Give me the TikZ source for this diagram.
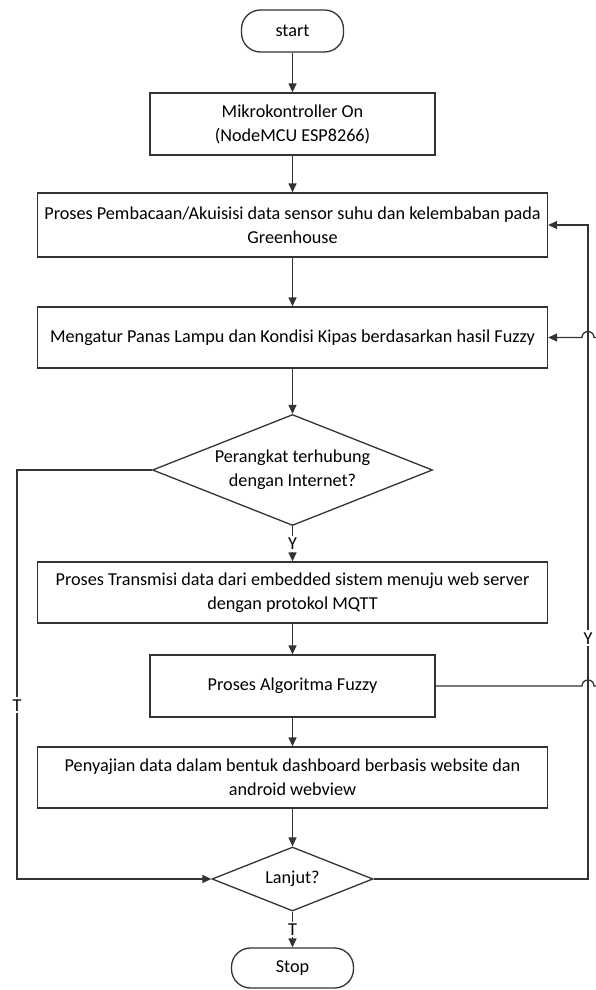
\documentclass[tikz,border=0pt]{standalone}
\usepackage{fontspec}
\setmainfont{Carlito}
\usetikzlibrary{arrows.meta,shapes.geometric}
\begin{document}
\begin{tikzpicture}[x=1pt,y=-1pt,
  every node/.style={font=\fontsize{18.2}{24}\selectfont},
  ln/.style={line width=1.3pt, draw=black!80},
  box/.style={ln, rectangle, align=center, inner sep=0pt},
  term/.style={ln, rectangle, rounded corners=19pt, inner sep=0pt},
  dia/.style={ln, diamond, aspect=2.5, align=center, inner sep=0pt},
  arr/.style={ln, -{Triangle[length=9pt,width=8pt]}},
  plain/.style={ln},
  lbl/.style={fill=white, inner sep=2pt}]
\useasboundingbox (0,0) rectangle (595,990);
\fill[white] (0,0) rectangle (595,990);

\node[term, minimum width=102pt, minimum height=42pt] (start) at (292.5,31) {start};
\node[box, minimum width=285pt, minimum height=62pt] (b1) at (292.5,124) {Mikrokontroller On\\(NodeMCU ESP8266)};
\node[box, minimum width=510pt, minimum height=64pt] (b2) at (292.5,225) {Proses Pembacaan/Akuisisi data sensor suhu dan kelembaban pada\\Greenhouse};
\node[box, minimum width=510pt, minimum height=61pt] (b3) at (292.5,337.5) {Mengatur Panas Lampu dan Kondisi Kipas berdasarkan hasil Fuzzy};
\node[dia, minimum width=280pt, minimum height=111pt] (d1) at (292.5,470) {Perangkat terhubung\\dengan Internet?};
\node[box, minimum width=510pt, minimum height=61pt] (b4) at (292.5,592.5) {Proses Transmisi data dari embedded sistem menuju web server\\dengan protokol MQTT};
\node[box, minimum width=285pt, minimum height=62pt] (b5) at (292.5,686) {Proses Algoritma Fuzzy};
\node[box, minimum width=510pt, minimum height=61pt] (b6) at (292.5,777.5) {Penyajian data dalam bentuk dashboard berbasis website dan\\android webview};
\node[dia, minimum width=161pt, minimum height=64pt] (d2) at (292.5,879) {Lanjut?};
\node[term, minimum width=122pt, minimum height=40pt] (stop) at (292.5,968) {Stop};

\draw[arr] (start) -- (b1);
\draw[arr] (b1) -- (b2);
\draw[arr] (b2) -- (b3);
\draw[arr] (b3) -- (d1);
\draw[arr] (d1) -- node[lbl]{Y} (b4);
\draw[arr] (b4) -- (b5);
\draw[arr] (b5) -- (b6);
\draw[arr] (b6) -- (d2);
\draw[arr] (d2) -- node[lbl]{T} (stop);

\coordinate (lt) at (17,470);
\coordinate (lb) at (17,879);
\draw[arr] (d1.west) -- (lt) -- node[lbl,pos=0.575]{T} (lb) -- (d2.west);

\coordinate (rb) at (588,879);
\coordinate (rt) at (588,225);
\draw[arr] (d2.east) -- (rb) -- node[lbl,pos=0.368]{Y} (rt) -- (b2.east);

\coordinate (fh) at (582,686);
\coordinate (fe) at (596,686);
\draw[plain] (b5.east) -- (fh) arc[start angle=180,end angle=360,radius=6] -- (fe);

\coordinate (me) at (596,337.5);
\coordinate (mh) at (594,337.5);
\draw[arr] (me) -- (mh) arc[start angle=0,end angle=-180,radius=6] -- (b3.east);
\end{tikzpicture}
\end{document}
